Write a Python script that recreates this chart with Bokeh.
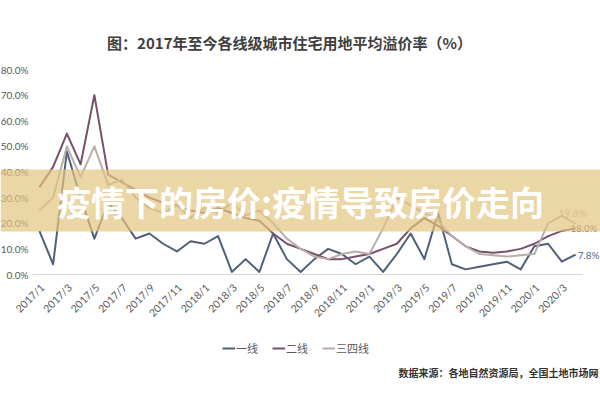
import math
from bokeh.plotting import figure
from bokeh.models import Range1d, Label, BoxAnnotation, Legend, LegendItem
from bokeh.embed import file_html
from bokeh.resources import INLINE

months = ["2017/1", "2017/2", "2017/3", "2017/4", "2017/5", "2017/6", "2017/7", "2017/8",
          "2017/9", "2017/10", "2017/11", "2017/12", "2018/1", "2018/2", "2018/3", "2018/4",
          "2018/5", "2018/6", "2018/7", "2018/8", "2018/9", "2018/10", "2018/11", "2018/12",
          "2019/1", "2019/2", "2019/3", "2019/4", "2019/5", "2019/6", "2019/7", "2019/8",
          "2019/9", "2019/10", "2019/11", "2019/12", "2020/1", "2020/2", "2020/3", "2020/4"]

tier1 = [17, 4, 48, 30, 14, 28, 22, 14, 16, 12, 9, 13, 12, 15, 1, 6, 1, 16, 6, 1,
         6, 10, 8, 4, 7, 1, 8, 16, 6, 24, 4, 2, 3, 4, 5, 2, 11, 12, 5, 7.8]
tier2 = [34, 42, 55, 43, 70, 39, 36, 33, 30, 28, 27, 25, 24, 26, 24, 22, 21, 16, 12, 10,
         8, 6, 6, 7, 8, 10, 12, 18, 22, 19, 15, 11, 9, 8.5, 9, 10, 12, 15, 17, 18.0]
tier34 = [25, 30, 50, 38, 50, 35, 37, 30, 26, 24, 27, 22, 26, 24, 28, 23, 25, 20, 14, 10,
          7, 6, 8, 9, 8, 18, 30, 27, 24, 21, 15, 11, 8, 7.5, 7, 7.5, 8, 20, 23, 19.8]

series_names = ["一线", "二线", "三四线"]
series_colors = ["#4f6079", "#7b4f6b", "#b9aeaa"]
label_colors = ["#5a6a82", "#7b5a70", "#c2b4ae"]
y_ticks = [0, 10, 20, 30, 40, 50, 60, 70, 80]
x_tick_idx = list(range(0, 40, 2))

title_text = "图：2017年至今各线级城市住宅用地平均溢价率（%）"
banner_text = "疫情下的房价:疫情导致房价走向"
source_text = "数据来源：各地自然资源局，全国土地市场网"

CJK = "Noto Sans CJK SC"
NUM = "Lato"

# plot-area placement on the 600x400 canvas (pixels)
W, H = 600, 400
PL, PR, PT, PB = 32, 582, 69, 274
Y0, Y1 = 0, 80
n = len(months)
kx = (PR - PL) / n
ky = (PB - PT) / (Y1 - Y0)
x_start = -0.5 - PL / kx
x_end = n - 0.5 + (W - PR) / kx
y_end = Y1 + PT / ky
y_start = Y0 - (H - PB) / ky

x = list(range(n))
p = figure(frame_width=W, frame_height=H, output_backend="svg", toolbar_location=None,
           x_range=Range1d(x_start, x_end), y_range=Range1d(y_start, y_end),
           x_axis_location=None, y_axis_location=None, title=None, min_border=0)
p.outline_line_color = None
p.grid.visible = False
p.background_fill_color = "white"
p.border_fill_color = "white"

# category axis baseline
p.line([x[0] - 0.5, x[-1] + 0.5], [Y0, Y0], line_color="#d9d9d9", line_width=1)

renderers = []
for data, col in zip([tier1, tier2, tier34], series_colors):
    r = p.line(x, data, line_color=col, line_width=2, line_join="round")
    renderers.append(r)

# y tick labels
for v in y_ticks:
    p.add_layout(Label(x=PL - 4, y=v, x_units="canvas", y_units="data", text=f"{v:.1f}%",
                       text_align="right", text_baseline="middle", text_font=NUM,
                       text_font_size="10px", text_color="#595959"))

# x tick labels (rotated)
for i in x_tick_idx:
    p.add_layout(Label(x=i, y=PB + 11, x_units="data", y_units="canvas", x_offset=3,
                       angle=math.pi / 4, text=months[i], text_align="right",
                       text_baseline="middle", text_font=NUM, text_font_size="10.5px",
                       text_color="#595959"))

# end value labels
end_offsets = [(2, 0), (-5, 0), (-17, 11)]
end_sizes = ["10px", "9.5px", "10px"]
for data, col, (dx, dy), fs in zip([tier1, tier2, tier34], label_colors, end_offsets, end_sizes):
    p.add_layout(Label(x=n - 1, y=data[-1], x_units="data", y_units="data",
                       x_offset=dx, y_offset=dy, text=f"{data[-1]:.1f}%",
                       text_align="left", text_baseline="middle", text_font=NUM,
                       text_font_size=fs, text_color=col))

# title
p.add_layout(Label(x=289, y=42, x_units="canvas", y_units="canvas", text=title_text,
                   text_align="center", text_baseline="middle", text_font=CJK,
                   text_font_size="15px", text_font_style="bold", text_color="#404040"))

# source
p.add_layout(Label(x=398, y=372, x_units="canvas", y_units="canvas", text=source_text,
                   text_align="left", text_baseline="middle", text_font=CJK,
                   text_font_size="10px", text_font_style="bold", text_color="#333333"))

# legend
legend = Legend(items=[LegendItem(label=nm, renderers=[r]) for nm, r in zip(series_names, renderers)],
                orientation="horizontal", location=(222, 44), border_line_color=None,
                background_fill_alpha=0, glyph_width=13, glyph_height=8, label_standoff=1,
                spacing=14, label_text_font=CJK, label_text_font_size="11px",
                label_text_color="#595959", margin=0, padding=0)
p.add_layout(legend)

# banner overlay
p.add_layout(BoxAnnotation(left=0, right=W, top=169, bottom=231,
                           left_units="canvas", right_units="canvas",
                           top_units="canvas", bottom_units="canvas",
                           fill_color="#e3c57f", fill_alpha=0.7, line_color=None))
p.add_layout(Label(x=300, y=201, x_units="canvas", y_units="canvas", text=banner_text,
                   text_align="center", text_baseline="middle", text_font=CJK,
                   text_font_size="34px", text_font_style="bold", text_color="white"))

open("out.html", "w").write(file_html(p, INLINE))
